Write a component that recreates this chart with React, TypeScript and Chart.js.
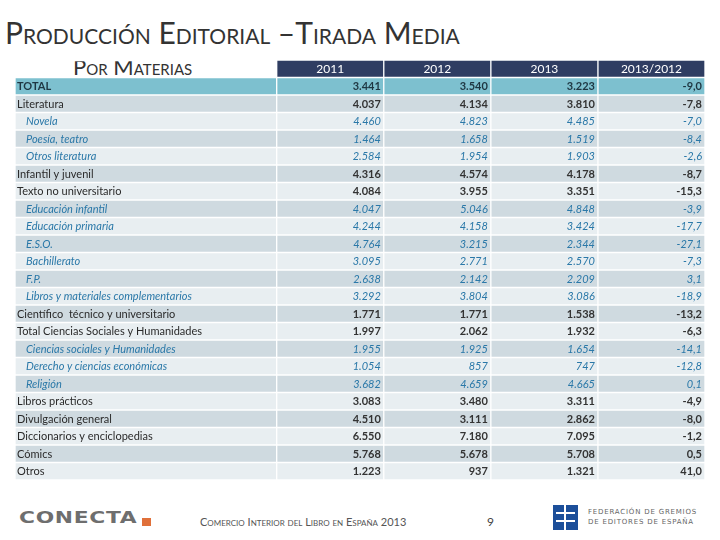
import React, { useEffect, useRef } from 'react';
import { Chart, registerables } from 'chart.js';

Chart.register(...registerables);

// ---------- DATA ----------
const headerLabels = ['2011', '2012', '2013', '2013/2012'];
const categories = [
  'TOTAL',
  'Literatura',
  'Novela',
  'Poesía, teatro',
  'Otros literatura',
  'Infantil y juvenil',
  'Texto no universitario',
  'Educación infantil',
  'Educación primaria',
  'E.S.O.',
  'Bachillerato',
  'F.P.',
  'Libros y materiales complementarios',
  'Científico  técnico y universitario',
  'Total Ciencias Sociales y Humanidades',
  'Ciencias sociales y Humanidades',
  'Derecho y ciencias económicas',
  'Religión',
  'Libros prácticos',
  'Divulgación general',
  'Diccionarios y enciclopedias',
  'Cómics',
  'Otros',
];
// hierarchy level: 0 = total, 1 = main subject, 2 = sub-subject
const levels = [0, 1, 2, 2, 2, 1, 1, 2, 2, 2, 2, 2, 2, 1, 1, 2, 2, 2, 1, 1, 1, 1, 1];
const values2011 = [3441, 4037, 4460, 1464, 2584, 4316, 4084, 4047, 4244, 4764, 3095, 2638, 3292, 1771, 1997, 1955, 1054, 3682, 3083, 4510, 6550, 5768, 1223];
const values2012 = [3540, 4134, 4823, 1658, 1954, 4574, 3955, 5046, 4158, 3215, 2771, 2142, 3804, 1771, 2062, 1925, 857, 4659, 3480, 3111, 7180, 5678, 937];
const values2013 = [3223, 3810, 4485, 1519, 1903, 4178, 3351, 4848, 3424, 2344, 2570, 2209, 3086, 1538, 1932, 1654, 747, 4665, 3311, 2862, 7095, 5708, 1321];
const change1312 = [-9.0, -7.8, -7.0, -8.4, -2.6, -8.7, -15.3, -3.9, -17.7, -27.1, -7.3, 3.1, -18.9, -13.2, -6.3, -14.1, -12.8, 0.1, -4.9, -8.0, -1.2, 0.5, 41.0];

// ---------- LAYOUT / STYLE ----------
const LABEL_W = 261.5;
const VAL_W = 107;
const FONT = 'Lato, "Open Sans", sans-serif';
const C_HEADER = '#2f3d62';
const C_TOTAL = '#7dc0cf';
const C_DARK = '#cfdae0';
const C_LIGHT = '#e8eef1';
const C_TEXT = '#2a2a2a';
const C_SUB = '#2a78a8';

function fmtInt(n: number): string {
  return String(Math.round(n)).replace(/\B(?=(\d{3})+(?!\d))/g, '.');
}
function fmtPct(n: number): string {
  return n.toFixed(1).replace('.', ',');
}

const rowKeys = ['__header__', ...categories];
const columns: (string | number)[][] = [
  ['', ...categories],
  [headerLabels[0], ...values2011.map(fmtInt)],
  [headerLabels[1], ...values2012.map(fmtInt)],
  [headerLabels[2], ...values2013.map(fmtInt)],
  [headerLabels[3], ...change1312.map(fmtPct)],
];

function cellColor(col: number, row: number): string {
  if (row === 0) return col === 0 ? 'rgba(0,0,0,0)' : C_HEADER;
  if (row === 1) return C_TOTAL;
  return (row - 1) % 2 === 1 ? C_DARK : C_LIGHT;
}

const textPlugin = {
  id: 'tableText',
  afterDatasetsDraw(chart: any) {
    const ctx = chart.ctx as CanvasRenderingContext2D;
    ctx.save();
    ctx.textBaseline = 'middle';
    chart.data.datasets.forEach((_ds: any, di: number) => {
      const meta = chart.getDatasetMeta(di);
      meta.data.forEach((el: any, ri: number) => {
        const { x, y, base } = el.getProps(['x', 'y', 'base'], true);
        const txt = String(columns[di][ri]);
        if (!txt) return;
        const left = Math.min(x, base);
        const right = Math.max(x, base);
        if (ri === 0) {
          ctx.fillStyle = '#ffffff';
          ctx.font = `12px ${FONT}`;
          ctx.textAlign = 'center';
          ctx.fillText(txt, (left + right) / 2, y);
          return;
        }
        const lvl = levels[ri - 1];
        let font = `11px ${FONT}`;
        let color = C_TEXT;
        if (lvl === 0) {
          font = `bold 11px ${FONT}`;
          color = '#1e3642';
        } else if (lvl === 2) {
          font = `italic 11px ${FONT}`;
          color = C_SUB;
        } else if (di > 0) {
          font = `bold 11px ${FONT}`;
          color = '#333333';
        }
        ctx.font = font;
        ctx.fillStyle = color;
        if (di === 0) {
          ctx.textAlign = 'left';
          ctx.fillText(txt, left + (lvl === 2 ? 11 : 2), y + 0.5);
        } else {
          ctx.textAlign = 'right';
          ctx.fillText(txt, right - 3, y + 0.5);
        }
      });
    });
    ctx.restore();
  },
};

function TableChart() {
  const ref = useRef<HTMLCanvasElement | null>(null);
  useEffect(() => {
    if (!ref.current) return;
    const widths = [LABEL_W, VAL_W, VAL_W, VAL_W, VAL_W];
    const chart = new Chart(ref.current, {
      type: 'bar',
      data: {
        labels: rowKeys,
        datasets: widths.map((w, ci) => ({
          label: ci === 0 ? 'Materia' : headerLabels[ci - 1],
          data: rowKeys.map(() => w),
          backgroundColor: (c: any) => cellColor(ci, c.dataIndex),
          borderColor: '#ffffff',
          borderWidth: 1,
          borderSkipped: false,
          barPercentage: 1,
          categoryPercentage: 1,
          stack: 'row',
        })),
      },
      options: {
        indexAxis: 'y',
        animation: false,
        responsive: false,
        maintainAspectRatio: false,
        layout: { padding: 0 },
        events: [],
        plugins: {
          legend: { display: false },
          tooltip: { enabled: false },
          title: { display: false },
        },
        scales: {
          x: { type: 'linear', stacked: true, min: 0, max: LABEL_W + 4 * VAL_W, display: false },
          y: { type: 'category', stacked: true, display: false },
        },
      },
      plugins: [textPlugin],
    } as any);
    return () => chart.destroy();
  }, []);
  return <canvas ref={ref} width={690} height={420} style={{ position: 'absolute', left: 15, top: 60 }} />;
}

export default function App() {
  return (
    <div style={{ position: 'absolute', left: 0, top: 0, width: 720, height: 540, background: '#fff', overflow: 'hidden', fontFamily: FONT }}>
      <div style={{ position: 'absolute', left: 5, top: 14, fontSize: 30, fontVariant: 'small-caps', color: '#333', whiteSpace: 'nowrap', lineHeight: '36px' }}>
        Producción Editorial –Tirada Media
      </div>
      <div style={{ position: 'absolute', left: 73, top: 54, fontSize: 22, fontVariant: 'small-caps', color: '#333', whiteSpace: 'nowrap', lineHeight: '26px' }}>
        Por Materias
      </div>
      <TableChart />
      {/* footer */}
      <div style={{ position: 'absolute', left: 19, top: 508, fontSize: 16, fontWeight: 'bold', color: '#6e6e6e', whiteSpace: 'nowrap', lineHeight: '20px', fontFamily: '"DejaVu Sans", sans-serif', letterSpacing: 0.5, transform: 'scaleX(1.36)', transformOrigin: 'left center' }}>
        CONECTA
      </div>
      <div style={{ position: 'absolute', left: 142, top: 518, width: 9, height: 8, background: '#e0703a' }} />
      <div style={{ position: 'absolute', left: 200, top: 514, fontSize: 11, fontVariant: 'small-caps', color: '#555', whiteSpace: 'nowrap', lineHeight: '16px' }}>
        Comercio Interior del Libro en España 2013
      </div>
      <div style={{ position: 'absolute', left: 487, top: 514, fontSize: 12, color: '#444', lineHeight: '16px' }}>9</div>
      <div style={{ position: 'absolute', left: 553, top: 505, width: 25, height: 25, background: '#1c4f9a' }}>
        <div style={{ position: 'absolute', left: 3, top: 7, width: 19, height: 2, background: '#fff' }} />
        <div style={{ position: 'absolute', left: 3, top: 15, width: 19, height: 2, background: '#fff' }} />
        <div style={{ position: 'absolute', left: 11, top: 0, width: 2, height: 25, background: '#fff' }} />
      </div>
      <div style={{ position: 'absolute', left: 588, top: 507, fontSize: 7, color: '#666', whiteSpace: 'nowrap', lineHeight: '10px', letterSpacing: 0.8, fontFamily: 'DejaVu Sans, sans-serif' }}>
        FEDERACIÓN DE GREMIOS
        <br />
        DE EDITORES DE ESPAÑA
      </div>
    </div>
  );
}
